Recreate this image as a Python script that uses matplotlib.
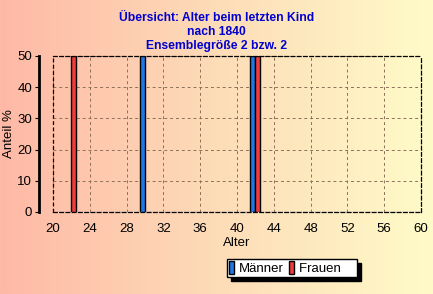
import numpy as np
import matplotlib.pyplot as plt
from matplotlib.colors import LinearSegmentedColormap
from matplotlib.patches import Patch

plt.rcParams['font.family'] = ['Liberation Sans', 'DejaVu Sans']

# Daten
alter = list(range(20, 61))
maenner_werte = {30: 50, 42: 50}
frauen_werte = {22: 50, 42: 50}
maenner = [maenner_werte.get(a, 0) for a in alter]
frauen = [frauen_werte.get(a, 0) for a in alter]

titel = "Übersicht: Alter beim letzten Kind\nnach 1840\nEnsemblegröße 2 bzw. 2"
blau = "#1e78e6"
rot = "#f03c3c"

fig = plt.figure(figsize=(4.33, 2.94), dpi=100)

# Hintergrund-Verlauf
bg = fig.add_axes([0, 0, 1, 1], zorder=-10)
cmap = LinearSegmentedColormap.from_list("bg", ["#ffb9a6", "#fddcb8", "#fffbc8"])
bg.imshow(np.linspace(0, 1, 256).reshape(1, -1), aspect="auto", cmap=cmap,
          extent=[0, 1, 0, 1])
bg.axis("off")

ax = fig.add_axes([53/433, 1 - 212/294, 368/433, 156/294])
ax.patch.set_alpha(0)

breite = 0.55
x = np.array(alter)
ax.bar(x - breite/2, maenner, width=breite, color=blau,
       edgecolor=["black" if v > 0 else "#8cc0f0" for v in maenner], linewidth=1, zorder=3)
ax.bar(x + breite/2, frauen, width=breite, color=rot,
       edgecolor=["black" if v > 0 else "#f09090" for v in frauen], linewidth=1, zorder=3)

ax.set_xlim(20, 60)
ax.set_ylim(0, 50)
ax.set_xticks(range(20, 61, 4))
ax.set_yticks(range(0, 51, 10))
ax.grid(True, color="#8c7058", linestyle=(0, (3, 3)), linewidth=0.7, zorder=1)

for s in ["top", "right", "bottom"]:
    ax.spines[s].set_linestyle((0, (3, 2)))
    ax.spines[s].set_linewidth(0.9)
ax.spines["left"].set_position(("outward", 10))
ax.spines["left"].set_linewidth(2)
ax.plot([0, 0], [0, 1], transform=ax.transAxes, color="black",
        linestyle=(0, (3, 2)), linewidth=0.9, clip_on=False)

ax.tick_params(axis="both", labelsize=9.5, length=3, pad=2)
ax.tick_params(axis="x", length=0, pad=8)
ax.set_xlabel("Alter", fontsize=9.5, labelpad=1)
ax.set_ylabel("Anteil %", fontsize=9.5, labelpad=2)

fig.text(0.5, 1 - 12/294, titel, ha="center", va="top", color="#0000d0",
         fontsize=8.7, fontweight="bold", linespacing=1.25)

handles = [Patch(facecolor=blau, edgecolor="black", label="Männer"),
           Patch(facecolor=rot, edgecolor="black", label="Frauen    ")]
leg = fig.legend(handles=handles, loc="center", bbox_to_anchor=(292/433, 1 - 268/294),
                 ncol=2, fontsize=9.5, frameon=True, fancybox=False,
                 shadow={"color": "black", "alpha": 1, "ox": 3, "oy": -3},
                 handlelength=0.4, handleheight=1.1, handletextpad=0.35,
                 columnspacing=0.4, borderpad=0.15, borderaxespad=0)
leg.get_frame().set_edgecolor("black")
leg.get_frame().set_linewidth(1)
leg.get_frame().set_alpha(1)

fig.savefig("out.png", dpi=100)
